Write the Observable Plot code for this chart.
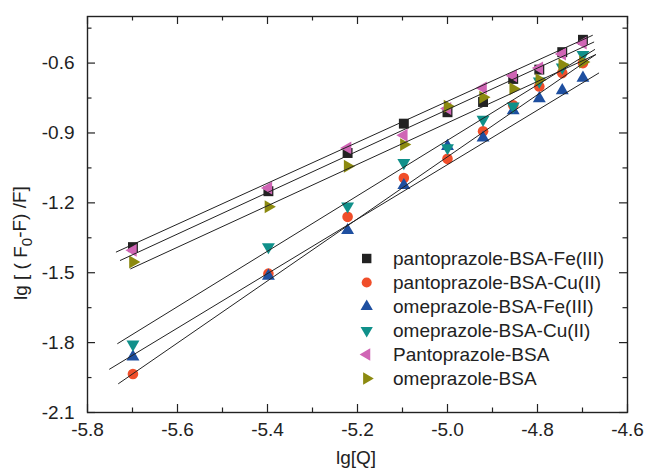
<!DOCTYPE html>
<html><head><meta charset="utf-8">
<script src="https://cdn.jsdelivr.net/npm/d3@7"></script>
<script src="https://cdn.jsdelivr.net/npm/@observablehq/plot@0.6"></script>
<style>
body{margin:0;background:#fff;}
#chart svg{font-family:"Liberation Sans",Arial,sans-serif;}
</style>
</head><body><div id="chart"></div>
<script>
// ---- data ----
const lgQ = [-5.699, -5.398, -5.222, -5.097, -5.0, -4.921, -4.854, -4.796, -4.745, -4.699];
const seriesNames = ["pantoprazole-BSA-Fe(III)", "pantoprazole-BSA-Cu(II)", "omeprazole-BSA-Fe(III)", "omeprazole-BSA-Cu(II)", "Pantoprazole-BSA", "omeprazole-BSA"];
const panFe = [-1.39, -1.15, -0.986, -0.86, -0.811, -0.767, -0.668, -0.628, -0.553, -0.50];
const panCu = [-1.935, -1.504, -1.26, -1.093, -1.011, -0.893, -0.781, -0.70, -0.643, -0.60];
const omeFe = [-1.861, -1.514, -1.318, -1.125, -0.957, -0.921, -0.804, -0.752, -0.718, -0.664];
const omeCu = [-1.807, -1.389, -1.214, -1.028, -0.964, -0.842, -0.785, -0.678, -0.618, -0.564];
const pan = [-1.404, -1.136, -0.964, -0.91, -0.795, -0.707, -0.654, -0.621, -0.561, -0.514];
const ome = [-1.454, -1.217, -1.043, -0.95, -0.785, -0.747, -0.71, -0.671, -0.607, -0.595];
// fitted lines (ends)
const fitX0 = [-5.736, -5.731, -5.751, -5.733, -5.727, -5.704];
const fitY0 = [-1.411, -1.976, -1.914, -1.804, -1.447, -1.483];
const fitX1 = [-4.678, -4.671, -4.664, -4.673, -4.675, -4.671];
const fitY1 = [-0.481, -0.564, -0.643, -0.542, -0.510, -0.564];
const xTicks = [-5.8, -5.6, -5.4, -5.2, -5.0, -4.8, -4.6];
const xMinor = [-5.7, -5.5, -5.3, -5.1, -4.9, -4.7];
const yTicks = [-2.1, -1.8, -1.5, -1.2, -0.9, -0.6];
const yMinor = [-1.95, -1.65, -1.35, -1.05, -0.75, -0.45];
const xLabel = "lg[Q]";

// ---- styles ----
const values = [panFe, panCu, omeFe, omeCu, pan, ome];
const colors = ["#222222", "#f04e2a", "#1e4fa0", "#10908a", "#d065b5", "#8c8a10"];
function tri(angle) {
  return {draw(ctx, size) {
    const y = -Math.sqrt(size / (Math.sqrt(3) * 3));
    const pts = [[0, 2 * y], [-Math.sqrt(3) * y, -y], [Math.sqrt(3) * y, -y]];
    const c = Math.cos(angle), s = Math.sin(angle);
    pts.forEach(([px, py], i) => {
      const X = px * c - py * s, Y = px * s + py * c;
      i ? ctx.lineTo(X, Y) : ctx.moveTo(X, Y);
    });
    ctx.closePath();
  }};
}
const symbols = [d3.symbolSquare, d3.symbolCircle, tri(0), tri(Math.PI), tri(-Math.PI / 2), tri(Math.PI / 2)];
const radii = [5.6, 5.3, 4.8, 4.8, 4.8, 4.8];
const FS = 19;

const W = 647, H = 472, mL = 87, mR = 20, mT = 16, mB = 60;
const pw = W - mL - mR, ph = H - mT - mB;

const marks = [];
values.forEach((ys, k) => {
  const rows = lgQ.map((x, i) => ({x, y: ys[i]}));
  marks.push(Plot.dot(rows, {x: "x", y: "y", fill: colors[k], stroke: "none", symbol: symbols[k], r: radii[k]}));
});
values.forEach((ys, k) => {
  const line = [{x: fitX0[k], y: fitY0[k]}, {x: fitX1[k], y: fitY1[k]}];
  marks.push(Plot.line(line, {x: "x", y: "y", stroke: "#222", strokeWidth: 1}));
});

const tickStyle = {stroke: "#222", strokeWidth: 1.2};
marks.push(
  Plot.tickX(xTicks, {x: d => d, insetTop: ph - 8, ...tickStyle}),
  Plot.tickX(xMinor, {x: d => d, insetTop: ph - 4.5, ...tickStyle}),
  Plot.tickX(xTicks, {x: d => d, insetBottom: ph - 8, ...tickStyle}),
  Plot.tickX(xMinor, {x: d => d, insetBottom: ph - 4.5, ...tickStyle}),
  Plot.tickY(yTicks, {y: d => d, insetRight: pw - 8, ...tickStyle}),
  Plot.tickY(yMinor, {y: d => d, insetRight: pw - 4.5, ...tickStyle}),
  Plot.tickY(yTicks, {y: d => d, insetLeft: pw - 8, ...tickStyle}),
  Plot.tickY(yMinor, {y: d => d, insetLeft: pw - 4.5, ...tickStyle}),
  Plot.axisX(xTicks, {tickSize: 0, tickPadding: 10, tickFormat: d => d.toFixed(1), fontSize: FS, fill: "#222", label: null}),
  Plot.axisY(yTicks, {tickSize: 0, tickPadding: 13, tickFormat: d => d.toFixed(1), fontSize: FS, fill: "#222", label: null}),
  Plot.frame({stroke: "#222", strokeWidth: 1.4})
);

const chart = Plot.plot({
  width: W, height: H,
  marginLeft: mL, marginRight: mR, marginTop: mT, marginBottom: mB,
  x: {domain: [-5.8, -4.6], label: null},
  y: {domain: [-2.1, -0.4], label: null},
  style: {fontFamily: "'Liberation Sans', Arial, sans-serif", background: "#fff"},
  marks
});
document.getElementById("chart").appendChild(chart);

// axis titles and legend
const svg = d3.select(chart);
svg.append("text")
  .attr("x", 356).attr("y", 464)
  .attr("text-anchor", "middle")
  .attr("font-size", FS).attr("fill", "#222")
  .text(xLabel);

const yl = svg.append("text")
  .attr("transform", "translate(27,300) rotate(-90)")
  .attr("text-anchor", "start")
  .attr("font-size", FS).attr("fill", "#222");
yl.append("tspan").text("lg [ ( F");
yl.append("tspan").attr("dy", "0.3em").attr("font-size", 15).text("0");
yl.append("tspan").attr("dy", "-0.3em").text("-F) /F]");

const lg = svg.append("g").attr("text-anchor", "start");
seriesNames.forEach((name, k) => {
  const y = 258.5 + k * 24;
  lg.append("path")
    .attr("transform", `translate(366.7,${y})`)
    .attr("d", d3.symbol().type(symbols[k]).size(Math.PI * (radii[k] * 0.95) ** 2)())
    .attr("fill", colors[k]);
  lg.append("text")
    .attr("x", 393).attr("y", y)
    .attr("dy", "0.35em")
    .attr("text-anchor", "start")
    .attr("font-size", FS).attr("fill", "#222")
    .text(name);
});
</script>
</body></html>
